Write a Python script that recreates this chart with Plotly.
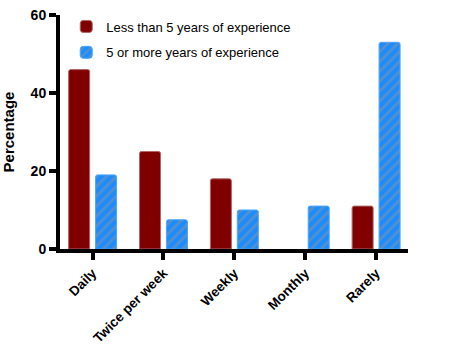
import plotly.graph_objects as go

categories = ["Daily", "Twice per week", "Weekly", "Monthly", "Rarely"]
less_than_5 = [46, 25, 18, 0, 11]
five_or_more = [19, 7.5, 10, 11, 53]
series_names = ["Less than 5 years of experience", "5 or more years of experience"]
y_ticks = [0, 20, 40, 60]

font_family = "Liberation Sans, Arial, sans-serif"

fig = go.Figure()
fig.add_trace(go.Bar(
    x=categories, y=less_than_5, name=series_names[0],
    marker=dict(color="#800000",
                line=dict(color="#b06666", width=[1 if v > 0 else 0 for v in less_than_5]),
                cornerradius=2),
    legendgroup="a",
))
fig.add_trace(go.Bar(
    x=categories, y=five_or_more, name=series_names[1],
    marker=dict(color="#1a8cff",
                line=dict(color="#4aa6ff", width=[1 if v > 0 else 0 for v in five_or_more]),
                cornerradius=2,
                pattern=dict(shape="/", fgcolor="#939393", bgcolor="#1a8cff", size=7, solidity=0.4)),
    legendgroup="b",
))

fig.update_layout(
    width=449, height=345,
    margin=dict(l=60, r=41, t=15, b=96, autoexpand=False),
    paper_bgcolor="white", plot_bgcolor="white",
    barmode="group", bargap=0.24, bargroupgap=0.22,
    font=dict(family=font_family, color="black"),
    showlegend=True,
    legend=dict(x=0.018, y=1.015, xanchor="left", yanchor="top",
                font=dict(size=13, family=font_family, color="black"),
                bgcolor="rgba(0,0,0,0)", tracegroupgap=6, traceorder="grouped",
                itemwidth=30),
    xaxis=dict(
        type="category", range=[-0.46, 4.45], automargin=False,
        showline=True, linecolor="black", linewidth=4,
        ticks="outside", ticklen=7, tickwidth=4, tickcolor="black",
        tickangle=-45, tickfont=dict(size=13.5, family=font_family, weight="bold"),
        showgrid=False, zeroline=False,
    ),
    yaxis=dict(
        range=[0, 60], tickvals=y_ticks, automargin=False,
        showline=True, linecolor="black", linewidth=4,
        ticks="outside", ticklen=7, tickwidth=4, tickcolor="black",
        tickfont=dict(size=14, family=font_family, weight="bold"),
        title=dict(text="Percentage", font=dict(size=15, family=font_family, weight="bold"), standoff=14),
        showgrid=False, zeroline=False,
    ),
)

fig.write_html("out.html")
